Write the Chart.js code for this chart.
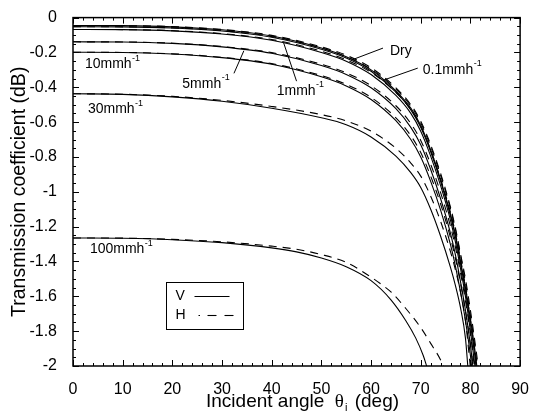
<!DOCTYPE html>
<html>
<head>
<meta charset="utf-8">
<script src="https://cdn.jsdelivr.net/npm/chart.js@4.4.1/dist/chart.umd.min.js"></script>
<style>
  html, body { margin: 0; background: #fff; }
</style>
</head>
<body>
<canvas id="chart" width="535" height="415"></canvas>
<script>
// incident angle (deg) and transmission coefficient (dB)
const dryAngleV = [0, 10, 20, 30, 40, 50, 55, 60, 65, 68, 70, 72, 74, 76, 77, 78, 79, 80, 81, 81.4];
const dryV = [-0.045, -0.046, -0.053, -0.07, -0.106, -0.175, -0.225, -0.3, -0.42, -0.52, -0.62, -0.76, -0.93, -1.13, -1.25, -1.4, -1.55, -1.73, -1.93, -2.03];
const dryAngleH = [0, 10, 20, 30, 40, 50, 55, 60, 65, 68, 70, 72, 74, 76, 77, 78, 79, 80, 81, 81.7];
const dryH = [-0.045, -0.046, -0.052, -0.068, -0.102, -0.168, -0.216, -0.288, -0.403, -0.5, -0.595, -0.73, -0.895, -1.09, -1.21, -1.355, -1.5, -1.68, -1.88, -2.03];

const r01AngleV = [0, 10, 20, 30, 40, 50, 55, 60, 65, 68, 70, 72, 74, 76, 77, 78, 79, 80, 81, 81.2];
const r01V = [-0.052, -0.053, -0.06, -0.077, -0.113, -0.182, -0.232, -0.308, -0.428, -0.53, -0.63, -0.77, -0.94, -1.14, -1.26, -1.41, -1.57, -1.76, -1.97, -2.03];
const r01AngleH = [0, 10, 20, 30, 40, 50, 55, 60, 65, 68, 70, 72, 74, 76, 77, 78, 79, 80, 81, 81.5];
const r01H = [-0.052, -0.053, -0.059, -0.075, -0.109, -0.175, -0.224, -0.296, -0.411, -0.508, -0.605, -0.74, -0.905, -1.1, -1.22, -1.365, -1.52, -1.71, -1.91, -2.03];

const r1AngleV = [0, 10, 20, 30, 40, 50, 55, 60, 65, 68, 70, 72, 74, 76, 77, 78, 79, 80, 81];
const r1V = [-0.068, -0.069, -0.076, -0.094, -0.13, -0.2, -0.25, -0.327, -0.447, -0.55, -0.652, -0.795, -0.965, -1.165, -1.29, -1.44, -1.6, -1.8, -2.02];
const r1AngleH = [0, 10, 20, 30, 40, 50, 55, 60, 65, 68, 70, 72, 74, 76, 77, 78, 79, 80, 81, 81.3];
const r1H = [-0.068, -0.069, -0.075, -0.092, -0.126, -0.193, -0.242, -0.315, -0.43, -0.528, -0.625, -0.762, -0.927, -1.12, -1.24, -1.385, -1.545, -1.735, -1.95, -2.03];

const r5AngleV = [0, 10, 20, 30, 40, 50, 55, 60, 65, 68, 70, 72, 74, 76, 77, 78, 79, 80, 80.6];
const r5V = [-0.139, -0.14, -0.148, -0.168, -0.205, -0.275, -0.326, -0.403, -0.523, -0.63, -0.73, -0.872, -1.04, -1.24, -1.365, -1.515, -1.68, -1.88, -2.03];
const r5AngleH = [0, 10, 20, 30, 40, 50, 55, 60, 65, 68, 70, 72, 74, 76, 77, 78, 79, 80, 80.9];
const r5H = [-0.139, -0.14, -0.147, -0.166, -0.201, -0.268, -0.317, -0.391, -0.506, -0.608, -0.705, -0.842, -1.005, -1.2, -1.32, -1.465, -1.625, -1.815, -2.03];

const r10AngleV = [0, 10, 20, 30, 40, 50, 55, 60, 65, 68, 70, 72, 74, 76, 77, 78, 79, 80, 80.3];
const r10V = [-0.199, -0.2, -0.209, -0.23, -0.268, -0.34, -0.392, -0.47, -0.592, -0.7, -0.8, -0.94, -1.105, -1.305, -1.43, -1.575, -1.74, -1.94, -2.02];
const r10AngleH = [0, 10, 20, 30, 40, 50, 55, 60, 65, 68, 70, 72, 74, 76, 77, 78, 79, 80, 80.6];
const r10H = [-0.199, -0.2, -0.208, -0.228, -0.264, -0.333, -0.383, -0.458, -0.575, -0.678, -0.775, -0.91, -1.07, -1.265, -1.385, -1.525, -1.685, -1.875, -2.02];

const r30AngleV = [0, 10, 20, 30, 40, 50, 55, 60, 65, 68, 70, 72, 74, 76, 77, 78, 79, 79.5];
const r30V = [-0.437, -0.441, -0.455, -0.48, -0.52, -0.575, -0.615, -0.685, -0.795, -0.89, -0.975, -1.1, -1.255, -1.435, -1.54, -1.665, -1.84, -2.01];
const r30AngleH = [0, 10, 20, 30, 40, 50, 55, 60, 65, 68, 70, 72, 74, 76, 77, 78, 79, 80];
const r30H = [-0.437, -0.44, -0.452, -0.475, -0.51, -0.557, -0.593, -0.652, -0.75, -0.835, -0.91, -1.025, -1.17, -1.345, -1.45, -1.575, -1.74, -2.01];

const r100AngleV = [0, 10, 20, 30, 40, 45, 50, 55, 60, 64, 67, 69, 70.5, 71.3];
const r100V = [-1.265, -1.267, -1.275, -1.292, -1.322, -1.345, -1.38, -1.43, -1.51, -1.62, -1.74, -1.84, -1.94, -2.01];
const r100AngleH = [0, 10, 20, 30, 40, 45, 50, 55, 60, 62, 64, 67, 70, 72, 74, 74.7];
const r100H = [-1.265, -1.266, -1.273, -1.287, -1.312, -1.33, -1.36, -1.405, -1.49, -1.53, -1.575, -1.67, -1.78, -1.87, -1.965, -2.01];

const xTicks = [0, 10, 20, 30, 40, 50, 60, 70, 80, 90];
const yTicks = [0, -0.2, -0.4, -0.6, -0.8, -1, -1.2, -1.4, -1.6, -1.8, -2];

const FONT = '"Liberation Sans", Arial, sans-serif';
const DASH = [8, 6];

function pairs(xs, ys) {
  return xs.map((x, i) => ({ x: x, y: ys[i] }));
}

function curve(xs, ys, dashed) {
  return {
    data: pairs(xs, ys),
    borderColor: '#000',
    borderWidth: 1.1,
    borderDash: dashed ? DASH : [],
    pointRadius: 0,
    cubicInterpolationMode: 'monotone',
    fill: false
  };
}

const datasets = [
  curve(dryAngleV, dryV, false), curve(dryAngleH, dryH, true),
  curve(r01AngleV, r01V, false), curve(r01AngleH, r01H, true),
  curve(r1AngleV, r1V, false), curve(r1AngleH, r1H, true),
  curve(r5AngleV, r5V, false), curve(r5AngleH, r5H, true),
  curve(r10AngleV, r10V, false), curve(r10AngleH, r10H, true),
  curve(r30AngleV, r30V, false), curve(r30AngleH, r30H, true),
  curve(r100AngleV, r100V, false), curve(r100AngleH, r100H, true)
];

// rain-rate labels: text position and optional leader line, in data units
const notes = [
  { text: 'Dry', unit: false, at: [63.8, -0.19], from: [62.4, -0.175], to: [56.4, -0.24] },
  { text: '0.1mmh', unit: true, at: [70.4, -0.3], from: [69.4, -0.29], to: [62.4, -0.36] },
  { text: '1mmh', unit: true, at: [41, -0.42], from: [45, -0.365], to: [42.4, -0.145] },
  { text: '5mmh', unit: true, at: [22, -0.38], from: [32.4, -0.32], to: [34.4, -0.19] },
  { text: '10mmh', unit: true, at: [2.4, -0.27] },
  { text: '30mmh', unit: true, at: [3, -0.527] },
  { text: '100mmh', unit: true, at: [3.4, -1.33] }
];

const decorations = {
  id: 'decorations',
  afterDatasetsDraw(chart) {
    const { ctx, chartArea: a, scales: { x, y } } = chart;
    const line = (x1, y1, x2, y2) => {
      ctx.beginPath(); ctx.moveTo(x1, y1); ctx.lineTo(x2, y2); ctx.stroke();
    };
    ctx.save();
    ctx.strokeStyle = '#000';
    ctx.fillStyle = '#000';

    // inward ticks on all four sides
    ctx.lineWidth = 1;
    for (let v = 0; v <= 90; v += 2) {
      const px = Math.round(x.getPixelForValue(v)) + 0.5;
      const len = v % 10 === 0 ? 6 : 3;
      line(px, a.bottom, px, a.bottom - len);
      line(px, a.top, px, a.top + len);
    }
    for (let i = 0; i <= 40; i++) {
      const py = Math.round(y.getPixelForValue(-i * 0.05)) + 0.5;
      const len = i % 4 === 0 ? 6 : 3;
      line(a.left, py, a.left + len, py);
      line(a.right, py, a.right - len, py);
    }
    ctx.lineWidth = 1.5;
    ctx.strokeRect(a.left, a.top, a.width, a.height);

    // rain-rate labels
    ctx.lineWidth = 1;
    ctx.textBaseline = 'middle';
    ctx.textAlign = 'left';
    notes.forEach(n => {
      const px = x.getPixelForValue(n.at[0]);
      const py = y.getPixelForValue(n.at[1]);
      ctx.font = '14px ' + FONT;
      ctx.fillText(n.text, px, py);
      if (n.unit) {
        const w = ctx.measureText(n.text).width;
        ctx.font = '9px ' + FONT;
        ctx.fillText('-1', px + w + 0.5, py - 6);
      }
      if (n.from) {
        line(x.getPixelForValue(n.from[0]), y.getPixelForValue(n.from[1]),
             x.getPixelForValue(n.to[0]), y.getPixelForValue(n.to[1]));
      }
    });

    // legend box
    const bx = Math.round(x.getPixelForValue(18.8)) + 0.5;
    const by = Math.round(y.getPixelForValue(-1.52)) + 0.5;
    const bw = 77, bh = 47;
    ctx.lineWidth = 1;
    ctx.strokeRect(bx, by, bw, bh);
    ctx.font = '14px ' + FONT;
    ctx.fillText('V', bx + 9, by + 14);
    ctx.fillText('H', bx + 9, by + 33);
    ctx.lineWidth = 1.1;
    line(bx + 28, by + 14, bx + 63, by + 14);
    line(bx + 32, by + 33, bx + 33.5, by + 33);
    line(bx + 41, by + 33, bx + 50, by + 33);
    line(bx + 58, by + 33, bx + 67, by + 33);

    // x axis title with subscript
    const tx = 206, ty = 407;
    ctx.textBaseline = 'alphabetic';
    ctx.font = '19px ' + FONT;
    ctx.fillText('Incident angle  ', tx, ty);
    let cx = tx + ctx.measureText('Incident angle  ').width;
    ctx.font = '19px "Liberation Serif", serif';
    ctx.fillText('θ', cx, ty);
    cx += ctx.measureText('θ').width + 1;
    ctx.font = '11px ' + FONT;
    ctx.fillText('i', cx, ty + 4);
    cx += ctx.measureText('i').width + 2;
    ctx.font = '19px ' + FONT;
    ctx.fillText(' (deg)', cx, ty);
    ctx.restore();
  }
};

const config = {
  type: 'line',
  data: { datasets: datasets },
  options: {
    responsive: false,
    animation: false,
    devicePixelRatio: 1,
    layout: { padding: { top: 15, right: 12, left: 0, bottom: 0 } },
    plugins: { legend: { display: false }, tooltip: { enabled: false } },
    scales: {
      x: {
        type: 'linear',
        min: 0, max: 90,
        afterBuildTicks: s => { s.ticks = xTicks.map(v => ({ value: v })); },
        afterFit: s => { s.height = 49; },
        grid: { display: false },
        border: { display: false },
        ticks: { color: '#000', padding: 6, maxRotation: 0, font: { size: 16, family: FONT } }
      },
      y: {
        type: 'linear',
        min: -2, max: 0,
        afterBuildTicks: s => { s.ticks = yTicks.map(v => ({ value: v })); },
        afterFit: s => { s.width = 73; },
        grid: { display: false },
        border: { display: false },
        ticks: {
          color: '#000', padding: 8, font: { size: 16, family: FONT },
          callback: v => String(+v.toFixed(1))
        },
        title: {
          display: true,
          text: 'Transmission coefficient (dB)',
          color: '#000',
          padding: { top: 8, bottom: 0 },
          font: { size: 19.5, family: FONT, weight: 'normal' }
        }
      }
    }
  },
  plugins: [decorations]
};

// draw the chart
const ctx = document.getElementById('chart').getContext('2d');
new Chart(ctx, config);
</script>
</body>
</html>
